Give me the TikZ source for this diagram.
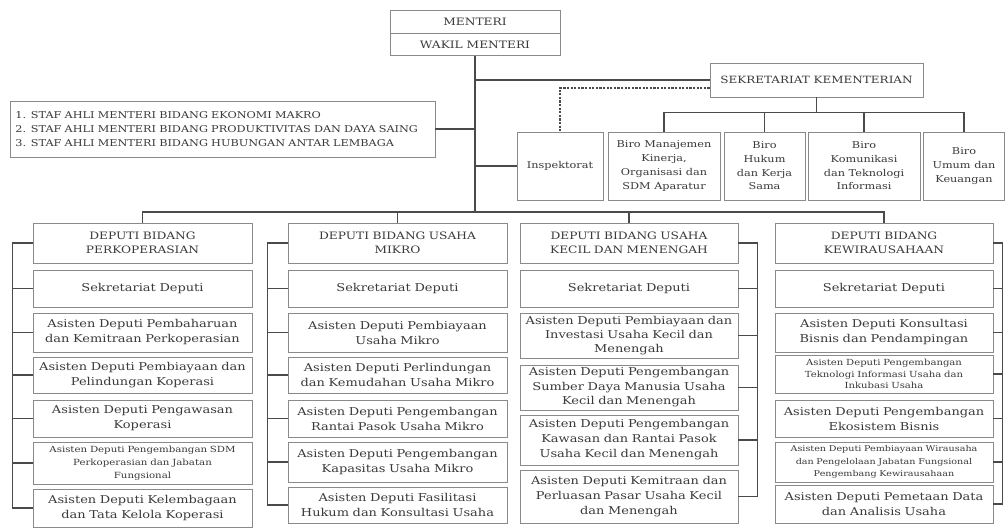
\documentclass[tikz,border=0pt]{standalone}
\usepackage{fontspec}
\setmainfont{DejaVu Serif}[FakeStretch=1.2]
\usepackage{tikz}
\usetikzlibrary{positioning}

\definecolor{boxline}{HTML}{8A8A8A}
\definecolor{wire}{HTML}{4A4A4A}
\definecolor{ink}{HTML}{3A3A3A}

\begin{document}
\begin{tikzpicture}[
    x=1pt, y=-1pt,
    box/.style={draw=boxline, line width=0.9pt, fill=white, align=center, inner sep=1pt, text=ink, font=\fontsize{10.8}{15}\selectfont},
    head/.style={box, minimum width=219pt, minimum height=40pt, text width=214pt, font=\fontsize{10.2}{14.5}\selectfont},
    sub/.style={box, minimum width=219pt, text width=216pt},
    tiny/.style={sub, font=\fontsize{8.6}{12.5}\selectfont},
    biro/.style={box, minimum height=68pt, font=\fontsize{9.4}{13.7}\selectfont},
    line/.style={draw=wire, line width=1.6pt},
    dashline/.style={draw=wire, line width=1.2pt, dash pattern=on 2.2pt off 1.4pt}
]
    \useasboundingbox (0,0) rectangle (1005,528);

    % Pimpinan
    \node (menteri) [box, minimum width=170pt, minimum height=23pt, font=\fontsize{10.2}{12}\selectfont] at (475,21.5) {MENTERI};
    \node (wakil) [box, minimum width=170pt, minimum height=22pt, font=\fontsize{10.2}{12}\selectfont, below=0pt of menteri] {WAKIL MENTERI};
    \node (staf) [box, minimum width=425pt, minimum height=56pt, text width=414pt, align=left, font=\fontsize{9.4}{14}\selectfont] at (222.5,129)
        {1. STAF AHLI MENTERI BIDANG EKONOMI MAKRO\\2. STAF AHLI MENTERI BIDANG PRODUKTIVITAS DAN DAYA SAING\\3. STAF AHLI MENTERI BIDANG HUBUNGAN ANTAR LEMBAGA};
    \node (sekjen) [box, minimum width=213pt, minimum height=34pt, font=\fontsize{10}{12}\selectfont] at (816.5,80) {SEKRETARIAT KEMENTERIAN};

    % Inspektorat dan Biro
    \node (insp) [biro, minimum width=86pt] at (560,166) {Inspektorat};
    \node (biro1) [biro, minimum width=112pt] at (664,166) {Biro Manajemen\\Kinerja,\\Organisasi dan\\SDM Aparatur};
    \node (biro2) [biro, minimum width=81pt] at (764.5,166) {Biro\\Hukum\\dan Kerja\\Sama};
    \node (biro3) [biro, minimum width=112pt] at (864,166) {Biro\\Komunikasi\\dan Teknologi\\Informasi};
    \node (biro4) [biro, minimum width=81pt] at (964,166) {Biro\\Umum dan\\Keuangan};

    % Deputi Bidang Perkoperasian
    \node (pk) [head] at (142.5,243) {DEPUTI BIDANG\\PERKOPERASIAN};
    \node (pks) [sub, minimum height=37pt] at (142.5,288.5) {Sekretariat Deputi};
    \node (pk1) [sub, minimum height=39pt] at (142.5,332.5) {Asisten Deputi Pembaharuan\\dan Kemitraan Perkoperasian};
    \node (pk2) [sub, minimum height=36pt] at (142.5,375) {Asisten Deputi Pembiayaan dan\\Pelindungan Koperasi};
    \node (pk3) [sub, minimum height=37pt] at (142.5,418.5) {Asisten Deputi Pengawasan\\Koperasi};
    \node (pk4) [tiny, minimum height=42pt, font=\fontsize{8.5}{13}\selectfont] at (142.5,463) {Asisten Deputi Pengembangan SDM\\Perkoperasian dan Jabatan\\Fungsional};
    \node (pk5) [sub, minimum height=38pt] at (142.5,508) {Asisten Deputi Kelembagaan\\dan Tata Kelola Koperasi};

    % Deputi Bidang Usaha Mikro
    \node (um) [head] at (397.5,243) {DEPUTI BIDANG USAHA\\MIKRO};
    \node (ums) [sub, minimum height=37pt] at (397.5,288.5) {Sekretariat Deputi};
    \node (um1) [sub, minimum height=39pt] at (397.5,332.5) {Asisten Deputi Pembiayaan\\Usaha Mikro};
    \node (um2) [sub, minimum height=36pt] at (397.5,375) {Asisten Deputi Perlindungan\\dan Kemudahan Usaha Mikro};
    \node (um3) [sub, minimum height=37pt] at (397.5,418.5) {Asisten Deputi Pengembangan\\Rantai Pasok Usaha Mikro};
    \node (um4) [sub, minimum height=40pt] at (397.5,462) {Asisten Deputi Pengembangan\\Kapasitas Usaha Mikro};
    \node (um5) [sub, minimum height=36pt] at (397.5,505) {Asisten Deputi Fasilitasi\\Hukum dan Konsultasi Usaha};

    % Deputi Bidang Usaha Kecil dan Menengah
    \node (ukm) [head, minimum width=218pt] at (629,243) {DEPUTI BIDANG USAHA\\KECIL DAN MENENGAH};
    \node (ukms) [sub, minimum width=218pt, minimum height=37pt] at (629,288.5) {Sekretariat Deputi};
    \node (ukm1) [sub, minimum width=218pt, minimum height=45pt, font=\fontsize{10.8}{14}\selectfont] at (629,335.5) {Asisten Deputi Pembiayaan dan\\Investasi Usaha Kecil dan\\Menengah};
    \node (ukm2) [sub, minimum width=218pt, minimum height=45pt, font=\fontsize{10.8}{14.5}\selectfont] at (629,387.5) {Asisten Deputi Pengembangan\\Sumber Daya Manusia Usaha\\Kecil dan Menengah};
    \node (ukm3) [sub, minimum width=218pt, minimum height=50pt] at (629,440) {Asisten Deputi Pengembangan\\Kawasan dan Rantai Pasok\\Usaha Kecil dan Menengah};
    \node (ukm4) [sub, minimum width=218pt, minimum height=53pt] at (629,496.5) {Asisten Deputi Kemitraan dan\\Perluasan Pasar Usaha Kecil\\dan Menengah};

    % Deputi Bidang Kewirausahaan
    \node (kw) [head, minimum width=218pt] at (884,243) {DEPUTI BIDANG\\KEWIRAUSAHAAN};
    \node (kws) [sub, minimum width=218pt, minimum height=37pt] at (884,288.5) {Sekretariat Deputi};
    \node (kw1) [sub, minimum width=218pt, minimum height=39pt] at (884,332.5) {Asisten Deputi Konsultasi\\Bisnis dan Pendampingan};
    \node (kw2) [tiny, minimum width=218pt, minimum height=38pt, font=\fontsize{8.4}{11.5}\selectfont] at (884,374) {Asisten Deputi Pengembangan\\Teknologi Informasi Usaha dan\\Inkubasi Usaha};
    \node (kw3) [sub, minimum width=218pt, minimum height=37pt] at (884,418.5) {Asisten Deputi Pengembangan\\Ekosistem Bisnis};
    \node (kw4) [tiny, minimum width=218pt, minimum height=40pt, font=\fontsize{8}{12.2}\selectfont] at (884,462) {Asisten Deputi Pembiayaan Wirausaha\\dan Pengelolaan Jabatan Fungsional\\Pengembang Kewirausahaan};
    \node (kw5) [sub, minimum width=218pt, minimum height=38pt] at (884,504) {Asisten Deputi Pemetaan Data\\dan Analisis Usaha};

    % Connections pimpinan
    \coordinate (bus) at (475,212);
    \draw [line] (wakil.south) -- (bus);
    \draw [line] (wakil.south |- sekjen.west) -- (sekjen.west);
    \draw [line] (staf.east) -- (wakil.south |- staf.east);
    \draw [line] (insp.west) -- (wakil.south |- insp.west);
    \draw [dashline] ([yshift=-8pt]sekjen.west) -| (insp.north);

    % Biro
    \draw [line] (sekjen.south) -- ++(0,15) coordinate (birobus);
    \draw [line] (biro1.north) |- (birobus) -| (biro4.north);
    \draw [line] (biro2.north) -- (biro2.north |- birobus);
    \draw [line] (biro3.north) -- (biro3.north |- birobus);

    % Deputi bus
    \draw [line] (pk.north) |- (bus) -| (kw.north);
    \draw [line] (um.north) -- (um.north |- bus);
    \draw [line] (ukm.north) -- (ukm.north |- bus);

    % Rails inside each deputi
    \draw [line] (pk.west) -- ++(-20,0) |- (pk5.west);
    \foreach \n in {pks,pk1,pk2,pk3,pk4}
        \draw [line] (\n.west) -- ++(-20,0);
    \draw [line] (um.west) -- ++(-20,0) |- (um5.west);
    \foreach \n in {ums,um1,um2,um3,um4}
        \draw [line] (\n.west) -- ++(-20,0);
    \draw [line] (ukm.east) -- ++(19,0) |- (ukm4.east);
    \foreach \n in {ukms,ukm1,ukm2,ukm3}
        \draw [line] (\n.east) -- ++(19,0);
    \draw [line] (kw.east) -- ++(9,0) |- (kw5.east);
    \foreach \n in {kws,kw1,kw2,kw3,kw4}
        \draw [line] (\n.east) -- ++(9,0);
\end{tikzpicture}
\end{document}
